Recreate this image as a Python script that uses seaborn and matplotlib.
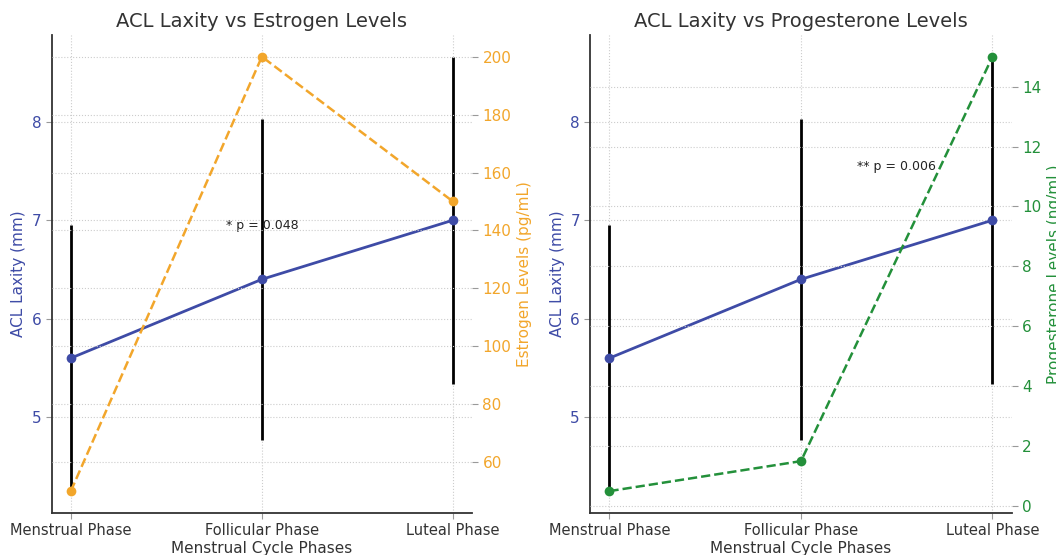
import matplotlib
matplotlib.use("Agg")
import matplotlib.pyplot as plt
import seaborn as sns
import pandas as pd
import numpy as np

phases = ["Menstrual Phase", "Follicular Phase", "Luteal Phase"]
acl_laxity = [5.6, 6.4, 7.0]
acl_sd = [1.35, 1.63, 1.66]
estrogen = [50, 200, 150]
progesterone = [0.5, 1.5, 15]
p_estrogen = "* p = 0.048"
p_progesterone = "** p = 0.006"

BLUE = "#3E4BA6"
ORANGE = "#F2A62B"
GREEN = "#23903A"
TEXT = "#333333"

sns.set_theme(style="whitegrid")
plt.rcParams["font.family"] = ["DejaVu Sans"]
plt.rcParams["text.color"] = TEXT
plt.rcParams["axes.labelcolor"] = TEXT
plt.rcParams["xtick.color"] = TEXT
plt.rcParams["ytick.color"] = TEXT

fig = plt.figure(figsize=(10.56, 5.55), dpi=100)
ax_l = fig.add_axes([0.049, 0.076, 0.398, 0.861])
ax_r = fig.add_axes([0.559, 0.076, 0.399, 0.861])

pos = list(range(len(phases)))
df = pd.DataFrame({"pos": pos, "phase": phases, "acl": acl_laxity, "sd": acl_sd,
                   "estrogen": estrogen, "progesterone": progesterone})

grid_kw = dict(color="#cccccc", linestyle=":", linewidth=0.8)


def style_main(ax):
    ax.set_facecolor("white")
    ax.grid(True, **grid_kw)
    for s in ["top", "right"]:
        ax.spines[s].set_visible(False)
    for s in ["left", "bottom"]:
        ax.spines[s].set_visible(True)
        ax.spines[s].set_color("#333333")
        ax.spines[s].set_linewidth(1.3)
    ax.tick_params(axis="y", which="major", left=True, length=4, width=0.8,
                   color="#999999", labelcolor=BLUE, labelsize=11)
    ax.tick_params(axis="x", which="major", bottom=True, length=4, width=0.8,
                   color="#999999", labelcolor=TEXT, labelsize=10.5)


def draw(ax, hormone_col, color, label, ptext, px, py):
    ax.errorbar(df["pos"], df["acl"], yerr=df["sd"], fmt="none", ecolor="black",
                elinewidth=2, capsize=0, zorder=2)
    sns.lineplot(data=df, x="pos", y="acl", ax=ax, color=BLUE, marker="o",
                 markersize=7, markeredgewidth=0, linewidth=2, zorder=3)
    ax.set_xticks(pos)
    ax.set_xticklabels(phases)
    ax.set_xlim(-0.1, 2.1)
    ax.set_yticks([5, 6, 7, 8])
    ax.set_xlabel("Menstrual Cycle Phases", fontsize=11, labelpad=2)
    ax.set_ylabel("ACL Laxity (mm)", color=BLUE, fontsize=11)
    ax.text(px, py, ptext, ha="center", va="center", fontsize=9, color="#222222")
    style_main(ax)

    ax2 = ax.twinx()
    sns.lineplot(data=df, x="pos", y=hormone_col, ax=ax2, color=color, marker="o",
                 markersize=7, markeredgewidth=0, linewidth=1.8, linestyle="--")
    ax2.set_ylabel(label, color=color, fontsize=11)
    ax2.grid(True, **grid_kw)
    ax2.grid(False, axis="x")
    for s in ax2.spines.values():
        s.set_visible(False)
    ax2.tick_params(axis="y", right=True, length=4, width=0.8, color="#999999",
                    labelcolor=color, labelsize=11)
    ax2.set_xlim(-0.1, 2.1)
    return ax2


draw(ax_l, "estrogen", ORANGE, "Estrogen Levels (pg/mL)", p_estrogen, 1.0, 6.95)
ax_l.set_title("ACL Laxity vs Estrogen Levels", fontsize=14, color=TEXT)
draw(ax_r, "progesterone", GREEN, "Progesterone Levels (ng/mL)", p_progesterone, 1.5, 7.55)
ax_r.set_title("ACL Laxity vs Progesterone Levels", fontsize=14, color=TEXT)

fig.savefig("out.png", dpi=100)
